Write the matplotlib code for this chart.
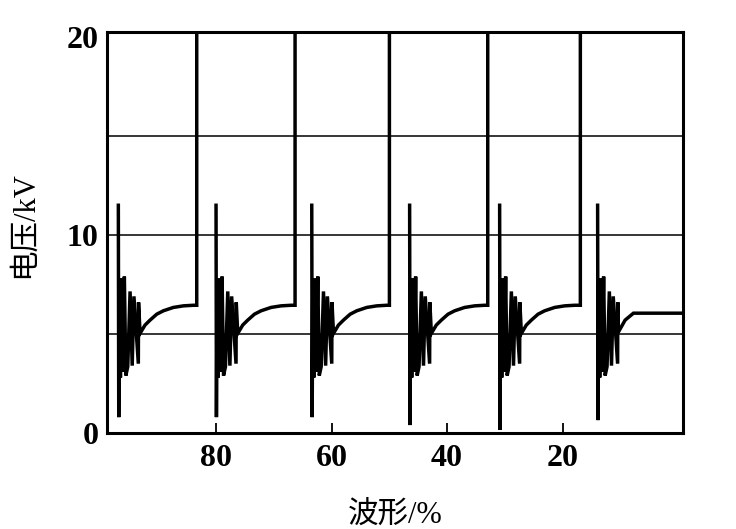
import numpy as np
import matplotlib
matplotlib.use("Agg")
import matplotlib.pyplot as plt

# waveform readings (x in %, y in kV)
spike_pos = [96.91, 80.0, 63.43, 46.49, 30.91, 13.95]
spike_top = [11.5, 11.5, 11.5, 11.5, 11.5, 11.5]
spike_bottom = [0.8, 0.8, 0.8, 0.4, 0.15, 0.65]
rise_pos = [83.34, 66.32, 49.99, 32.97, 16.94]

# ringing after each spike (offset from spike, kV)
ring_offset = [0.18, 0.36, 0.55, 0.75, 1.04, 1.3, 1.63, 2.03, 2.4, 2.7, 3.46, 3.50]
ring_volts = [7.6, 2.8, 7.8, 3.1, 7.9, 2.9, 3.35, 7.15, 3.4, 6.9, 3.5, 6.6]

# recovery curve
curve_offset = [3.76, 4.62, 5.49, 6.65, 7.79, 9.52, 11.25, 12.98]
curve_volts = [5.03, 5.45, 5.7, 6.0, 6.17, 6.34, 6.42, 6.45]
last_curve_offset = [3.6, 4.76, 6.2]
last_curve_volts = [5.1, 5.7, 6.05]

grid_levels = [5, 10, 15]
x_ticks = [80, 60, 40, 20]
y_ticks = [0, 10, 20]

num_font = {"family": "Liberation Serif", "weight": "bold", "size": 23}
label_family = ["Liberation Serif", "Noto Sans CJK SC"]

fig = plt.figure(figsize=(7.36, 5.29), dpi=100)
ax = fig.add_axes([0.1454, 0.1815, 0.7826, 0.758])

for lv in grid_levels:
    ax.axhline(lv, color="black", lw=1.1, zorder=1)

for i, p in enumerate(spike_pos):
    xs = [p, p - 0.07]
    ys = [spike_top[i], spike_bottom[i]]
    xs += [p - o for o in ring_offset]
    ys += ring_volts
    if i < len(rise_pos):
        xs += [p - o for o in curve_offset] + [rise_pos[i], rise_pos[i]]
        ys += curve_volts + [curve_volts[-1], 21]
    else:
        xs += [p - o for o in last_curve_offset] + [-3]
        ys += last_curve_volts + [last_curve_volts[-1]]
    ax.plot(xs, ys, color="black", lw=2.5, solid_joinstyle="miter", zorder=2)

ax.set_xlim(98.87, -0.83)
ax.set_ylim(0, 20.25)
ax.set_xticks(x_ticks)
ax.set_yticks(y_ticks)
ax.set_xticklabels([str(t) for t in x_ticks], fontdict=num_font)
ax.set_yticklabels([str(t) for t in y_ticks], fontdict=num_font)
ax.tick_params(axis="x", direction="in", length=7, width=1.3, pad=8)
ax.tick_params(axis="y", direction="in", length=0, pad=6)

for s in ax.spines.values():
    s.set_linewidth(2.2)

ax.set_xlabel("波形/%", family=label_family, size=22, labelpad=20)
ax.set_ylabel("电压/kV", family=label_family, size=22)
ax.yaxis.set_label_coords(-0.118, 0.52)

fig.savefig("out.png", dpi=100)
